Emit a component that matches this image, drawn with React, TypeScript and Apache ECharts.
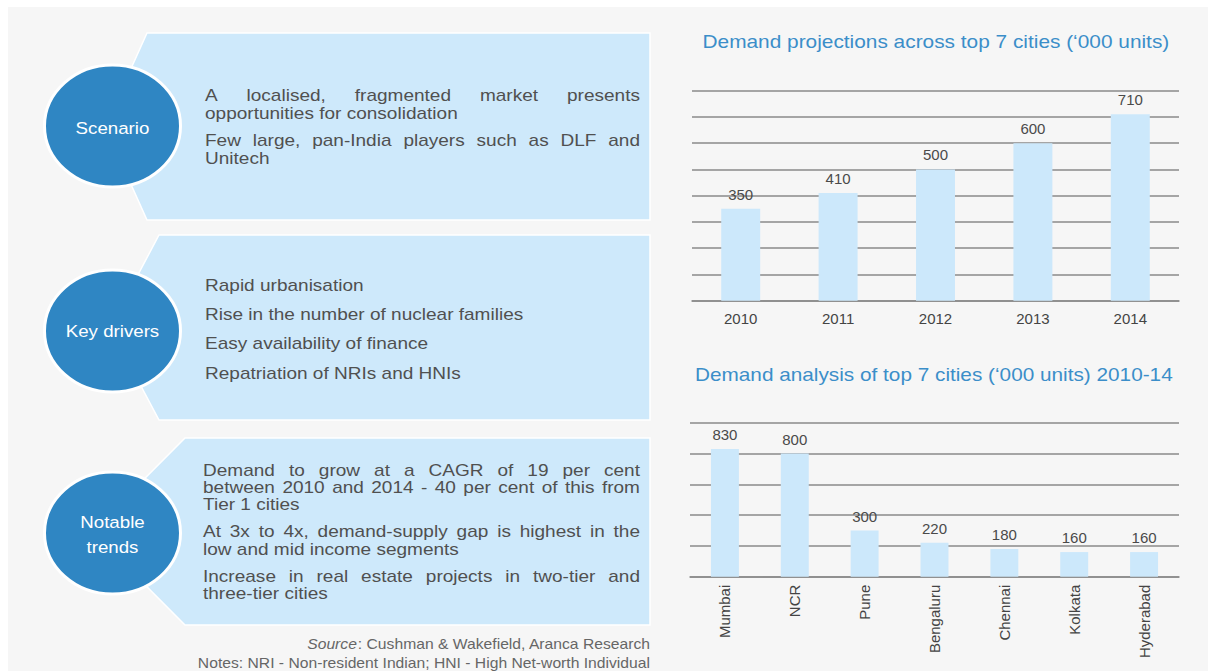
import React, { useEffect, useRef } from "react";
import * as echarts from "echarts";

// ---------- data ----------
const years = ["2010", "2011", "2012", "2013", "2014"];
const projections = [350, 410, 500, 600, 710];

const cities = ["Mumbai", "NCR", "Pune", "Bengaluru", "Chennai", "Kolkata", "Hyderabad"];
const cityDemand = [830, 800, 300, 220, 180, 160, 160];

const title1 = "Demand projections across top 7 cities (‘000 units)";
const title2 = "Demand analysis of top 7 cities (‘000 units) 2010-14";

const panelLabels = [["Scenario"], ["Key drivers"], ["Notable", "trends"]];
const scenarioText = [
  ["A localised, fragmented market presents", "opportunities for consolidation"],
  ["Few large, pan-India players such as DLF and", "Unitech"],
];
const driversText = [
  ["Rapid urbanisation"],
  ["Rise in the number of nuclear families"],
  ["Easy availability of finance"],
  ["Repatriation of NRIs and HNIs"],
];
const trendsText = [
  ["Demand to grow at a CAGR of 19 per cent", "between 2010 and 2014 - 40 per cent of this from", "Tier 1 cities"],
  ["At 3x to 4x, demand-supply gap is highest in the", "low and mid income segments"],
  ["Increase in real estate projects in two-tier and", "three-tier cities"],
];
const sourceText = "Cushman & Wakefield, Aranca Research";
const notesText = "Notes: NRI - Non-resident Indian; HNI - High Net-worth Individual";

// ---------- style / layout ----------
const FONT = '"Liberation Sans", Arial, sans-serif';
const PANEL_FILL = "#cee9fb";
const CIRCLE_FILL = "#2f86c3";
const TEXT_GRAY = "#505050";
const TITLE_BLUE = "#3b8ec9";
const BAR_FILL = "#cce8fb";
const GRID_GRAY = "#8a8a8a";
const SX = 1.12;
const PSIZE = 17;

const panelLayout = [
  { top: 33, bottom: 220, corner: 147, apex: 105, cx: 112.5, cy: 126, textX: 205, textY: 95, lineStep: 18, paraStep: 27, labelY: [128] },
  { top: 235, bottom: 420, corner: 159, apex: 110, cx: 112.5, cy: 331, textX: 205, textY: 285, lineStep: 18, paraStep: 29.3, labelY: [331] },
  { top: 438, bottom: 625, corner: 185, apex: 92, cx: 112.5, cy: 533, textX: 203, textY: 470, lineStep: 17.3, paraStep: 27, labelY: [522, 547] },
];
const panelTexts = [scenarioText, driversText, trendsText];
const PANEL_RIGHT = 650;
const TEXT_RIGHT = 640;

let ctx2d: CanvasRenderingContext2D | null = null;
function measure(s: string, size: number): number {
  if (!ctx2d) ctx2d = document.createElement("canvas").getContext("2d");
  if (!ctx2d) return s.length * size * 0.5;
  ctx2d.font = `${size}px ${FONT}`;
  return ctx2d.measureText(s).width;
}

function textEl(text: string, x: number, y: number, size: number, fill: string, align: string, scaleX = 1, extra: any = {}) {
  return {
    type: "text",
    x,
    y,
    scaleX,
    style: {
      text,
      fontSize: size,
      fontFamily: FONT,
      fill,
      align,
      verticalAlign: "middle",
      textAlign: align,
      textVerticalAlign: "middle",
      ...extra,
    },
  };
}

function justifiedLine(line: string, left: number, right: number, y: number, justify: boolean): any[] {
  if (!justify) return [textEl(line, left, y, PSIZE, TEXT_GRAY, "left", SX)];
  const words = line.split(" ");
  const widths = words.map((w) => measure(w, PSIZE) * SX);
  const total = widths.reduce((a, b) => a + b, 0);
  const gap = (right - left - total) / Math.max(1, words.length - 1);
  const out: any[] = [];
  let x = left;
  words.forEach((w, i) => {
    out.push(textEl(w, x, y, PSIZE, TEXT_GRAY, "left", SX));
    x += widths[i] + gap;
  });
  return out;
}

function buildGraphic(): any[] {
  const els: any[] = [];
  panelLayout.forEach((p, pi) => {
    const mid = (p.top + p.bottom) / 2;
    els.push({
      type: "polygon",
      shape: {
        points: [
          [p.corner, p.top],
          [PANEL_RIGHT, p.top],
          [PANEL_RIGHT, p.bottom],
          [p.corner, p.bottom],
          [p.apex, mid],
        ],
      },
      style: { fill: PANEL_FILL, stroke: "#ffffff", lineWidth: 1.5 },
    });
    els.push({
      type: "ellipse",
      shape: { cx: p.cx, cy: p.cy, rx: 68, ry: 61 },
      style: { fill: CIRCLE_FILL, stroke: "#ffffff", lineWidth: 3 },
    });
    panelLabels[pi].forEach((lbl, li) => {
      const w = measure(lbl, 17) * 1.1;
      els.push(textEl(lbl, p.cx - w / 2, p.labelY[li], 17, "#ffffff", "left", 1.1));
    });
    let y = p.textY;
    const paras = panelTexts[pi];
    paras.forEach((para, ki) => {
      para.forEach((line, li) => {
        const justify = li < para.length - 1;
        els.push(...justifiedLine(line, p.textX, TEXT_RIGHT, y, justify));
        if (li < para.length - 1) y += p.lineStep;
      });
      if (ki < paras.length - 1) y += p.paraStep;
    });
  });

  // source & notes
  els.push(
    textEl("{i|Source}: " + sourceText, 650, 644, 14, "#666666", "right", 1.12, {
      rich: { i: { fontStyle: "italic", fontSize: 14, fontFamily: FONT, fill: "#666666" } },
    })
  );
  els.push(textEl(notesText, 650, 663, 14, "#666666", "right", 1.12));

  // chart titles (fitted to their width in the reference)
  const t1w = measure(title1, 18);
  const t2w = measure(title2, 18);
  const s1 = 467 / t1w;
  const s2 = 478 / t2w;
  els.push(textEl(title1, 936 - (t1w * s1) / 2, 42, 18, TITLE_BLUE, "left", s1));
  els.push(textEl(title2, 934 - (t2w * s2) / 2, 375, 18, TITLE_BLUE, "left", s2));
  return els;
}

export default function App() {
  const ref = useRef<HTMLDivElement>(null);
  useEffect(() => {
    if (!ref.current) return;
    const chart = echarts.init(ref.current, null, { renderer: "svg" });
    const barLabel = { show: true, position: "top", distance: 7, color: "#4a4a4a", fontSize: 15, fontFamily: FONT };
    chart.setOption({
      animation: false,
      backgroundColor: "transparent",
      textStyle: { fontFamily: FONT },
      grid: [
        { left: 692, right: 29, top: 90.7, height: 210 },
        { left: 690, right: 29, top: 422.7, height: 154 },
      ],
      xAxis: [
        {
          gridIndex: 0,
          type: "category",
          data: years,
          axisLine: { lineStyle: { color: GRID_GRAY, width: 1.5 } },
          axisTick: { show: false },
          axisLabel: { color: "#444444", fontSize: 15, margin: 10, fontFamily: FONT },
        },
        {
          gridIndex: 1,
          type: "category",
          data: cities,
          axisLine: { lineStyle: { color: GRID_GRAY, width: 1.5 } },
          axisTick: { show: false },
          axisLabel: { color: "#444444", fontSize: 15, margin: 8, rotate: 90, fontFamily: FONT },
        },
      ],
      yAxis: [
        {
          gridIndex: 0,
          type: "value",
          min: 0,
          max: 800,
          interval: 100,
          axisLabel: { show: false },
          axisLine: { show: false },
          axisTick: { show: false },
          splitLine: { lineStyle: { color: GRID_GRAY, width: 1.5 } },
        },
        {
          gridIndex: 1,
          type: "value",
          min: 0,
          max: 1000,
          interval: 200,
          axisLabel: { show: false },
          axisLine: { show: false },
          axisTick: { show: false },
          splitLine: { lineStyle: { color: GRID_GRAY, width: 1.5 } },
        },
      ],
      series: [
        {
          type: "bar",
          xAxisIndex: 0,
          yAxisIndex: 0,
          data: projections,
          barWidth: "40%",
          itemStyle: { color: BAR_FILL },
          label: barLabel,
          z: 3,
        },
        {
          type: "bar",
          xAxisIndex: 1,
          yAxisIndex: 1,
          data: cityDemand,
          barWidth: "40%",
          itemStyle: { color: BAR_FILL },
          label: barLabel,
          z: 3,
        },
      ],
      graphic: { elements: buildGraphic() },
    });
    return () => chart.dispose();
  }, []);

  return (
    <div style={{ position: "absolute", left: 0, top: 0, width: 1208, height: 671, background: "#ffffff", overflow: "hidden" }}>
      <div style={{ position: "absolute", left: 8, top: 7, right: 0, bottom: 0, background: "#f6f6f6" }} />
      <div ref={ref} style={{ position: "absolute", left: 0, top: 0, width: 1208, height: 671 }} />
    </div>
  );
}
